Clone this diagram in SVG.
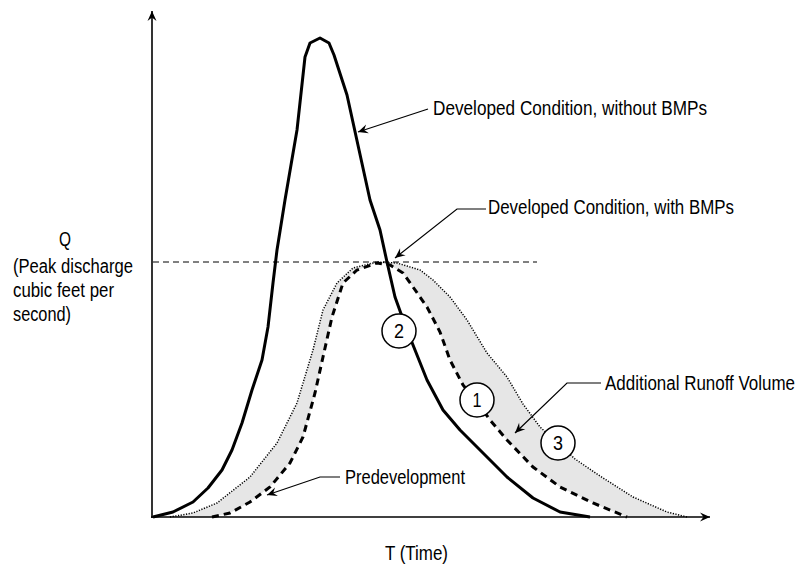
<svg xmlns="http://www.w3.org/2000/svg" width="803" height="565" viewBox="0 0 803 565">
<style>
text{font-family:"Liberation Sans Narrow","Arial Narrow","Liberation Sans",Arial,sans-serif;font-size:20px;fill:#000}
.num{text-anchor:middle}
.leader{fill:none;stroke:#000;stroke-width:1.2}
.axis{fill:none;stroke:#000;stroke-width:1.6}
.circ{fill:#fff;stroke:#000;stroke-width:1.5}
</style>
<defs>
<marker id="ah" viewBox="-11 -5 12 10" refX="0" refY="0" markerWidth="12" markerHeight="10" markerUnits="userSpaceOnUse" orient="auto">
<path d="M0,0 L-10,-4.5 L-6.5,0 L-10,4.5 Z" fill="#000"/>
</marker>
</defs>
<rect width="803" height="565" fill="#fff"/>
<g id="band">
<path d="M170,517 L193,513 L217,503 L250,477 L277,443 L297,403 L313,350 L323,310 L337,283 L353,268 L377,262 L397,263 L420,270 L433,280 L450,297 L467,320 L487,353 L507,377 L523,404 L540,427 L558,443 L575,459 L600,476 L633,497 L667,512 L687,517 L627,517 L593,503 L560,487 L533,467 L507,440 L490,420 L477,402 L463,385 L450,360 L440,332 L427,307 L413,287 L403,273 L390,265 L377,263 L357,270 L343,283 L332,317 L323,357 L315,393 L303,437 L290,463 L270,487 L250,502 L230,513 L212,517 Z" fill="#e6e6e6"/>
</g>
<g id="connectors">
<line x1="153" y1="262" x2="537" y2="262" stroke="#000" stroke-width="1" stroke-dasharray="6 4"/>
<polyline id="predevelopment-curve" fill="none" stroke="#000" stroke-width="1.5" stroke-dasharray="1.2 1.5" points="170,517 193,513 217,503 250,477 277,443 297,403 313,350 323,310 337,283 353,268 377,262 397,263 420,270 433,280 450,297 467,320 487,353 507,377 523,404 540,427 558,443 575,459 600,476 633,497 667,512 687,517"/>
<polyline id="with-bmps-curve" fill="none" stroke="#000" stroke-width="3" stroke-dasharray="7 5" points="212,517 230,513 250,502 270,487 290,463 303,437 315,393 323,357 332,317 343,283 357,270 377,263 390,265 403,273 413,287 427,307 440,332 450,360 463,385 477,402 490,420 507,440 533,467 560,487 593,503 627,517"/>
<polyline id="without-bmps-curve" fill="none" stroke="#000" stroke-width="3" stroke-linejoin="round" points="153,517 173,512 193,502 208,488 222,470 232,450 242,423 252,390 262,360 268,327 273,283 277,250 285,200 297,130 305,57 310,43 320,38 329,43 334,55 347,95 370,200 380,230 387,262 395,297 404,322 413,345 427,380 443,410 460,430 483,453 507,477 533,498 560,512 590,517"/>
<line class="axis" x1="152" y1="518" x2="152" y2="11" marker-end="url(#ah)"/>
<line class="axis" x1="151" y1="517" x2="710" y2="517" marker-end="url(#ah)"/>
<polyline class="leader" points="428,109 358,132" marker-end="url(#ah)"/>
<polyline class="leader" points="486,209 457,209 395,258" marker-end="url(#ah)"/>
<polyline class="leader" points="601,383 567,383 515,433" marker-end="url(#ah)"/>
<polyline class="leader" points="340,477 320,477 267,495" marker-end="url(#ah)"/>
</g>
<g id="node-2"><circle class="circ" cx="399" cy="331" r="17"/><text class="num" x="399" y="338" textLength="10" lengthAdjust="spacingAndGlyphs">2</text></g>
<g id="node-1"><circle class="circ" cx="477" cy="400" r="17"/><text class="num" x="477" y="407" textLength="9" lengthAdjust="spacingAndGlyphs">1</text></g>
<g id="node-3"><circle class="circ" cx="558" cy="443" r="17"/><text class="num" x="558" y="450" textLength="10" lengthAdjust="spacingAndGlyphs">3</text></g>
<g id="label-without"><text x="433" y="115" textLength="274" lengthAdjust="spacingAndGlyphs">Developed Condition, without BMPs</text></g>
<g id="label-with"><text x="488" y="214" textLength="246" lengthAdjust="spacingAndGlyphs">Developed Condition, with BMPs</text></g>
<g id="label-runoff"><text x="605" y="390" textLength="190" lengthAdjust="spacingAndGlyphs">Additional Runoff Volume</text></g>
<g id="label-predev"><text x="345" y="484" textLength="120" lengthAdjust="spacingAndGlyphs">Predevelopment</text></g>
<g id="label-q">
<text x="59" y="246" textLength="12" lengthAdjust="spacingAndGlyphs">Q</text>
<text x="13" y="273" textLength="120" lengthAdjust="spacingAndGlyphs">(Peak discharge</text>
<text x="13" y="297" textLength="101" lengthAdjust="spacingAndGlyphs">cubic feet per</text>
<text x="13" y="321" textLength="58" lengthAdjust="spacingAndGlyphs">second)</text>
</g>
<g id="label-t"><text x="385" y="560" textLength="63" lengthAdjust="spacingAndGlyphs">T (Time)</text></g>
</svg>
